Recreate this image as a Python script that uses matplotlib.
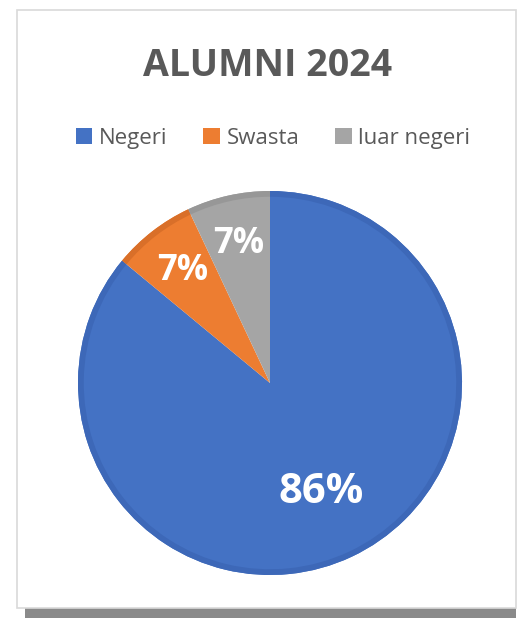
import matplotlib
matplotlib.use("Agg")
import matplotlib.pyplot as plt
from matplotlib.patches import Rectangle, Patch
import numpy as np

# data
categories = ["Negeri", "Swasta", "luar negeri"]
values = [86, 7, 7]
colors = ["#4472C4", "#ED7D31", "#A5A5A5"]
rim_colors = ["#3D68B8", "#D96F29", "#979797"]
title = "ALUMNI 2024"

plt.rcParams['font.family'] = ['Open Sans', 'DejaVu Sans']

fig = plt.figure(figsize=(5.2, 6.2), dpi=100)
fig.patch.set_facecolor("white")

# chart frame with shadow along the bottom
shadow = Rectangle((25 / 520, 2 / 620), 491 / 520, 600 / 620,
                   transform=fig.transFigure, facecolor="#8a8a8a",
                   edgecolor="none", zorder=0)
frame = Rectangle((17 / 520, 12 / 620), 499 / 520, 598 / 620,
                  transform=fig.transFigure, facecolor="white",
                  edgecolor="#d9d9d9", linewidth=1.2, zorder=1)
fig.patches.extend([shadow, frame])

# pie
ax = fig.add_axes([78 / 520, 45 / 620, 384 / 520, 384 / 620])
ax.set_zorder(2)
wedges, texts, autotexts = ax.pie(
    values, colors=colors, startangle=90, counterclock=False,
    autopct="%1.0f%%", pctdistance=0.74,
    wedgeprops=dict(linewidth=0))
# darker rim like the excel bevel
ax.pie(values, colors=rim_colors, startangle=90, counterclock=False,
       radius=1.0, wedgeprops=dict(width=0.03, linewidth=0))

for i, t in enumerate(autotexts):
    t.set_color("white")
    t.set_fontweight("bold")
    t.set_fontsize(25)
    if i == 0:
        w = wedges[0]
        mid = np.deg2rad((w.theta1 + w.theta2) / 2)
        t.set_position((0.63 * np.cos(mid), 0.63 * np.sin(mid)))
        t.set_fontsize(30)
ax.set_xlim(-1.0, 1.0)
ax.set_ylim(-1.0, 1.0)

fig.text(0.515, 1 - 66 / 620, title, ha="center", va="center",
         fontsize=27, fontweight="bold", color="#595959", zorder=3)

handles = [Patch(facecolor=c, edgecolor="none") for c in colors]
leg = fig.legend(handles, categories, loc="center", ncol=3,
                 bbox_to_anchor=(0.525, 1 - 138 / 620), frameon=False,
                 fontsize=16, handlelength=0.75, handleheight=0.75,
                 handletextpad=0.3, columnspacing=1.6, labelcolor="#595959")
leg.set_zorder(3)

fig.savefig("out.png", dpi=100)
